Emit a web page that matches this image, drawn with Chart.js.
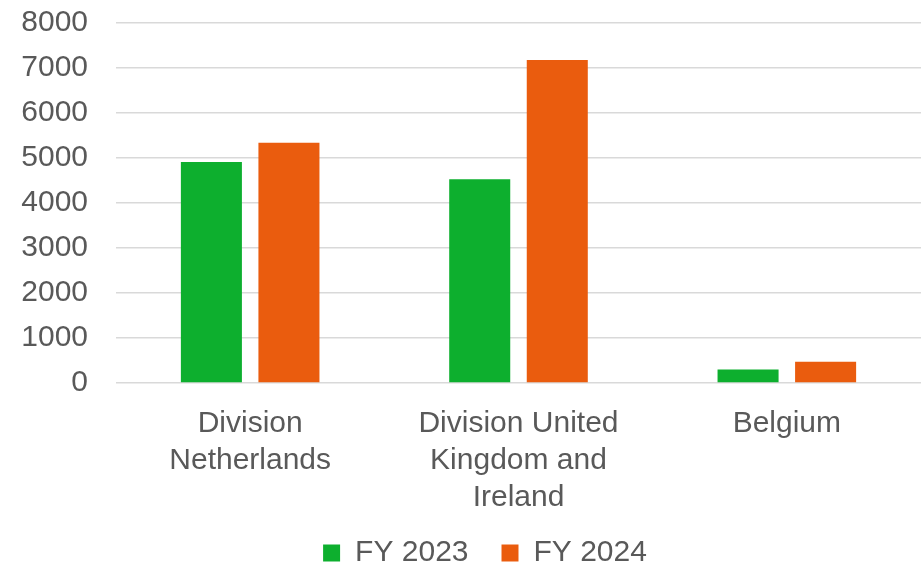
<!DOCTYPE html>
<html>
<head>
<meta charset="utf-8">
<script src="https://cdn.jsdelivr.net/npm/chart.js@4/dist/chart.umd.min.js"></script>
<style>
html,body{margin:0;padding:0;background:#fff;}
#wrap{width:921px;height:566px;position:relative;}
</style>
</head>
<body>
<div id="wrap"><canvas id="c"></canvas></div>
<script>
const categories = [["Division", "Netherlands"], ["Division United", "Kingdom and", "Ireland"], "Belgium"];
const seriesNames = ["FY 2023", "FY 2024"];
const fy2023 = [4910, 4530, 300];
const fy2024 = [5340, 7180, 470];
const yTicks = [0, 1000, 2000, 3000, 4000, 5000, 6000, 7000, 8000];

const textColor = "#595959";
const fontFamily = "'Liberation Sans', Arial, sans-serif";
const fontSize = 30;

const legendPlacer = {
  id: "legendPlacer",
  beforeLayout(chart) {
    const lg = chart.legend;
    if (lg && !lg._patched) {
      const orig = lg.fit.bind(lg);
      lg.fit = function () { orig(); this.height = 40; };
      lg._patched = true;
    }
  },
  afterLayout(chart) {
    const lg = chart.legend;
    if (!lg) return;
    lg.top = 505;
    lg.bottom = chart.height;
    lg.left = 49;
    lg.right = chart.width;
  }
};

new Chart(document.getElementById("c"), {
  type: "bar",
  data: {
    labels: categories,
    datasets: [
      { label: seriesNames[0], data: fy2023, backgroundColor: "#0DAF2E", borderWidth: 0 },
      { label: seriesNames[1], data: fy2024, backgroundColor: "#EA5C0E", borderWidth: 0 }
    ]
  },
  plugins: [legendPlacer],
  options: {
    responsive: true,
    maintainAspectRatio: false,
    animation: false,
    layout: { padding: { top: 23, right: 0, bottom: 0, left: 0 } },
    datasets: { bar: { categoryPercentage: 0.578, barPercentage: 0.787 } },
    plugins: {
      tooltip: { enabled: false },
      legend: {
        position: "bottom",
        labels: {
          color: textColor,
          font: { family: fontFamily, size: fontSize },
          boxWidth: 17,
          boxHeight: 17,
          padding: 33
        }
      }
    },
    scales: {
      x: {
        grid: { display: false, drawTicks: false },
        border: { display: false },
        ticks: {
          color: textColor,
          font: { family: fontFamily, size: fontSize, lineHeight: 1.24 },
          padding: 22,
          maxRotation: 0,
          autoSkip: false
        },
        afterFit: (s) => { s.height = 143; }
      },
      y: {
        min: 0,
        max: 8000,
        afterBuildTicks: (s) => { s.ticks = yTicks.map(v => ({ value: v })); },
        grid: { color: "#d9d9d9", lineWidth: 1.5, drawTicks: false },
        border: { display: false },
        ticks: {
          color: textColor,
          font: { family: fontFamily, size: fontSize },
          padding: 28,
          callback: (v) => String(v)
        },
        afterFit: (s) => { s.width = 116; s.paddingTop = 0; s.paddingBottom = 0; }
      }
    }
  }
});
</script>
</body>
</html>
